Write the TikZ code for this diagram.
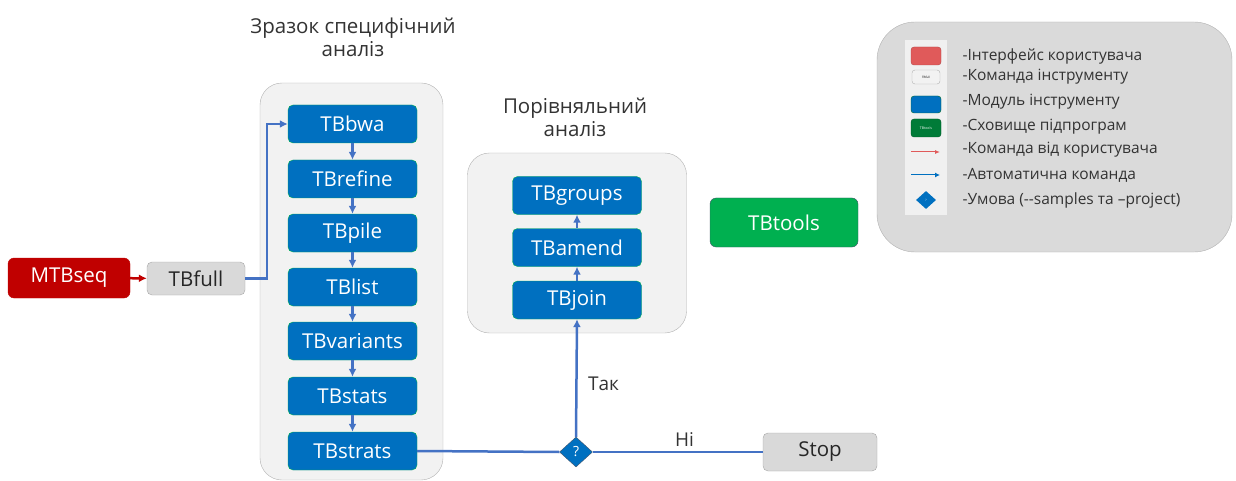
\documentclass[tikz,border=0pt]{standalone}
\usepackage{fontspec}
\setmainfont{Open Sans}
\usetikzlibrary{arrows.meta}
\usetikzlibrary{shapes.geometric}

\definecolor{modblue}{HTML}{0070C0}
\definecolor{modgreen}{HTML}{00B050}
\definecolor{userred}{HTML}{C00000}
\definecolor{iconred}{HTML}{E05A5A}
\definecolor{cmdgray}{HTML}{D9D9D9}
\definecolor{linkblue}{HTML}{4472C4}
\definecolor{panelgray}{HTML}{F2F2F2}
\definecolor{legendgray}{HTML}{DADADA}
\definecolor{slate}{HTML}{44546A}

\tikzset{
    module/.style={draw=modgreen, fill=modblue, rounded corners=5pt, text=white,
        minimum width=129pt, minimum height=38pt, font=\fontsize{20.5}{24}\selectfont},
    command/.style={draw=gray!70, fill=cmdgray, rounded corners=5pt, text=black!85,
        minimum height=36pt, font=\fontsize{20.5}{24}\selectfont},
    panel/.style={draw=gray!60, fill=panelgray, rounded corners=22pt},
    title/.style={align=center, text=black!80, font=\fontsize{20.5}{23}\selectfont},
    legendtext/.style={anchor=west, text=black!80, font=\fontsize{15.5}{17}\selectfont},
    autoarrow/.style={draw=linkblue, line width=2.5pt, -{Latex[length=8pt,width=8pt]}},
    autoline/.style={draw=linkblue, line width=2.5pt},
    userarrow/.style={draw=userred, line width=2.5pt, -{Latex[length=8pt,width=8pt]}},
    decision/.style={diamond, draw=slate, fill=modblue, text=white, inner sep=0pt,
        minimum width=33pt, minimum height=30pt, font=\fontsize{14}{15}\selectfont}
}

\begin{document}
\begin{tikzpicture}[x=1pt, y=-1pt]
    \useasboundingbox (0,0) rectangle (1236,481);

    % containers and titles
    \node[panel, minimum width=183pt, minimum height=397pt] (samplepanel) at (351.5,281.5) {};
    \node[panel, minimum width=219pt, minimum height=180pt] (comppanel) at (577,243) {};
    \node[title] (sampletitle) at (353,37) {Зразок специфічний\\аналіз};
    \node[title] (comptitle) at (575,117) {Порівняльний\\аналіз};

    % user side
    \node[draw=userred, fill=userred, rounded corners=6pt, text=white, minimum width=122pt,
        minimum height=40pt, font=\fontsize{20.5}{24}\selectfont] (mtbseq) at (69,278) {MTBseq};
    \node[command, minimum width=98pt, minimum height=33pt] (tbfull) at (196,278.5) {TBfull};

    % sample specific modules
    \node[module] (tbbwa) at (352.5,124) {TBbwa};
    \node[module] (tbrefine) at (352.5,179) {TBrefine};
    \node[module] (tbpile) at (352.5,233) {TBpile};
    \node[module] (tblist) at (352.5,287) {TBlist};
    \node[module] (tbvariants) at (352.5,341) {TBvariants};
    \node[module] (tbstats) at (352.5,396) {TBstats};
    \node[module] (tbstrats) at (352.5,451) {TBstrats};

    % comparative modules
    \node[module] (tbgroups) at (577,195.5) {TBgroups};
    \node[module] (tbamend) at (577,247.5) {TBamend};
    \node[module] (tbjoin) at (577,300) {TBjoin};

    \node[decision] (cond) at (576,452) {?};
    \node[command, minimum width=114pt, minimum height=38pt] (stop) at (820,452) {Stop};

    \node[draw=slate, fill=modgreen, rounded corners=6pt, text=white, minimum width=148pt,
        minimum height=49pt, font=\fontsize{20.5}{24}\selectfont] (tbtools) at (784,222.5) {TBtools};

    % connectors
    \draw[userarrow] (mtbseq) -- (tbfull);
    \draw[autoarrow] (tbfull.east) -- ++(22,0) |- (tbbwa.west);
    \draw[autoarrow] (tbbwa) -- (tbrefine);
    \draw[autoarrow] (tbrefine) -- (tbpile);
    \draw[autoarrow] (tbpile) -- (tblist);
    \draw[autoarrow] (tblist) -- (tbvariants);
    \draw[autoarrow] (tbvariants) -- (tbstats);
    \draw[autoarrow] (tbstats) -- (tbstrats);
    \draw[autoarrow] (tbjoin) -- (tbamend);
    \draw[autoarrow] (tbamend) -- (tbgroups);

    \draw[autoline] (tbstrats.east) -- (cond.west);
    \draw[autoarrow] (cond.north) -- node[pos=0.45, anchor=west, xshift=7pt, text=black!80,
        font=\fontsize{19}{21}\selectfont] {Так} (tbjoin.south);
    \draw[autoline] (cond.east) -- node[pos=0.54, above=1pt, text=black!80,
        font=\fontsize{19}{21}\selectfont] {Ні} (stop.west);

    % legend
    \node[draw=gray!60, fill=legendgray, rounded corners=38pt, minimum width=355pt,
        minimum height=230pt] (legend) at (1054.5,137) {};
    \fill[gray!12] (905,40) rectangle (947,215);

    \node[fill=iconred, draw=iconred!80!black, rounded corners=3pt, minimum width=30pt,
        minimum height=18pt, inner sep=0pt] (keyuser) at (926,56) {};
    \node[draw=gray!60, fill=gray!10, rounded corners=3pt, minimum width=28pt,
        minimum height=14pt, inner sep=0pt, font=\fontsize{3}{3}\selectfont] (keycmd) at (926,77) {TBfull};
    \node[fill=modblue, draw=modgreen!60!black, rounded corners=3pt, minimum width=30pt,
        minimum height=17pt, inner sep=0pt] (keymod) at (926,104.5) {};
    \node[fill=modgreen!70!black, draw=modgreen!50!black, rounded corners=3pt, minimum width=30pt,
        minimum height=18pt, inner sep=0pt, text=white, font=\fontsize{3.5}{4}\selectfont] (keylib) at (926,128) {TBtools};
    \coordinate (keyredA) at (911,152);
    \coordinate (keyredB) at (940,152);
    \draw[draw=iconred, line width=1pt, -{Latex[length=5pt,width=4pt]}] (keyredA) -- (keyredB);
    \coordinate (keyblueA) at (911,175);
    \coordinate (keyblueB) at (940,175);
    \draw[draw=modblue, line width=1pt, -{Latex[length=5pt,width=5pt]}] (keyblueA) -- (keyblueB);
    \node[diamond, fill=modblue, minimum width=20pt, minimum height=18pt, inner sep=0pt,
        text=white, font=\fontsize{3}{3}\selectfont] (keycond) at (926,200) {?};

    \node[legendtext] (txtuser) at (959,56) {-Інтерфейс користувача};
    \node[legendtext] (txtcmd) at (959,77) {-Команда інструменту};
    \node[legendtext] (txtmod) at (959,102) {-Модуль інструменту};
    \node[legendtext] (txtlib) at (959,127) {-Сховище підпрограм};
    \node[legendtext] (txtred) at (959,150) {-Команда від користувача};
    \node[legendtext] (txtblue) at (959,175) {-Автоматична команда};
    \node[legendtext] (txtcond) at (959,200) {-Умова (-{}-samples та –project)};
\end{tikzpicture}
\end{document}
